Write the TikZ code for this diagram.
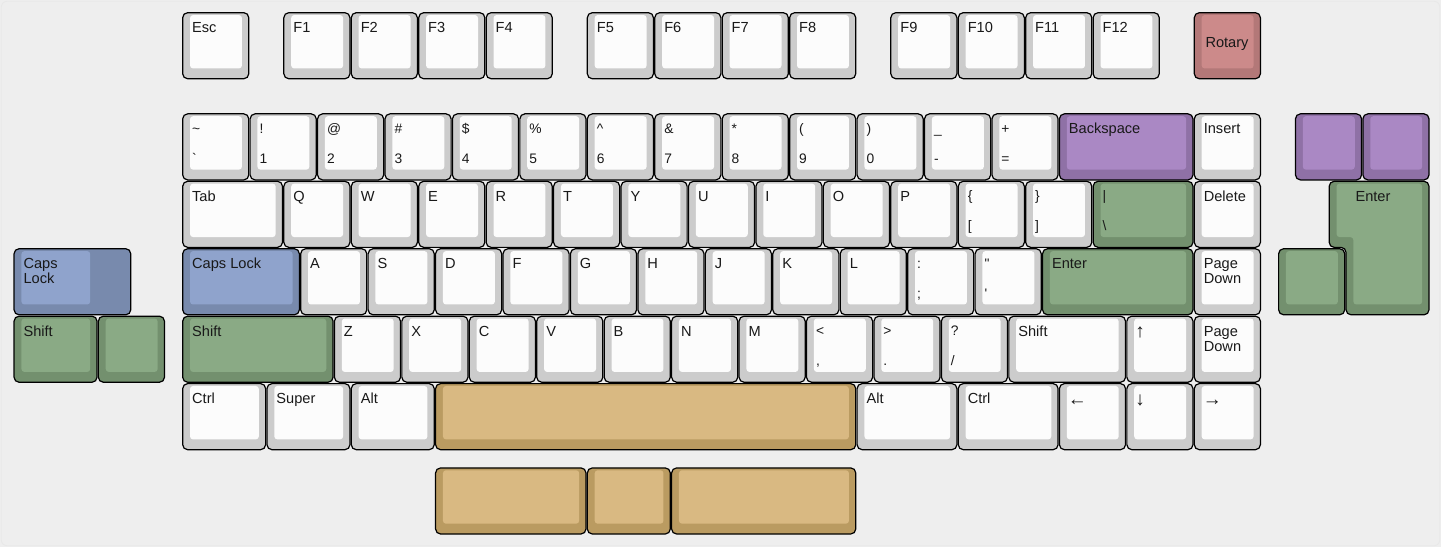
\documentclass[tikz,border=0pt]{standalone}
\usepackage{fontspec}
\setmainfont{Liberation Sans}
\usetikzlibrary{calc}
\newcounter{keyno}
\definecolor{bgfill}{HTML}{EEEEEE}
\definecolor{greyout}{HTML}{CCCCCC}
\definecolor{greyin}{HTML}{FCFCFC}
\definecolor{rotout}{RGB}{179,120,120}
\definecolor{rotin}{RGB}{204,138,138}
\definecolor{blueout}{RGB}{120,138,173}
\definecolor{bluein}{RGB}{143,163,204}
\definecolor{greenout}{RGB}{115,144,110}
\definecolor{greenin}{RGB}{138,170,133}
\definecolor{purpout}{RGB}{143,113,166}
\definecolor{purpin}{RGB}{170,136,196}
\definecolor{tanout}{RGB}{186,155,97}
\definecolor{tanin}{RGB}{217,185,130}
\tikzset{
	keyrim/.style={draw=black, line width=0.6pt, rounded corners=2.5pt},
	keytop/.style={rounded corners=1.5pt},
	legend/.style={anchor=base west, inner sep=0pt, align=left, text=black!90, font=\fontsize{7.3}{7.5}\selectfont},
	sublegend/.style={legend, font=\fontsize{6.9}{7}\selectfont},
	arrowlegend/.style={legend, font=\fontsize{9.5}{9.5}\selectfont}
}
% colour, x, y, width
\def\blankcap[#1](#2,#3)(#4){%
	\draw[keyrim, fill=#1out] ({#2+0.01},{#3+0.01}) rectangle ({#2+#4-0.01},{#3+0.99});
	\fill[keytop, #1in] ({#2+0.119},{#3+0.045}) rectangle ({#2+#4-0.111},{#3+0.837});}
\def\keycap[#1](#2,#3)(#4)#5{%
	\blankcap[#1](#2,#3)(#4)
	\stepcounter{keyno}
	\node[legend] (k\arabic{keyno}) at ({#2+0.145},{#3+0.305}) {#5};}
% two lines: the base anchor sits on the last line
\def\tallcap[#1](#2,#3)(#4)#5{%
	\blankcap[#1](#2,#3)(#4)
	\stepcounter{keyno}
	\node[legend] (k\arabic{keyno}) at ({#2+0.145},{#3+0.527}) {#5};}
\def\arrowcap[#1](#2,#3)(#4)#5{%
	\blankcap[#1](#2,#3)(#4)
	\stepcounter{keyno}
	\node[arrowlegend] (k\arabic{keyno}) at ({#2+0.13},{#3+0.33}) {#5};}
\def\dualcap[#1](#2,#3)(#4)#5#6{%
	\blankcap[#1](#2,#3)(#4)
	\stepcounter{keyno}
	\node[sublegend] (k\arabic{keyno}t) at ({#2+0.145},{#3+0.3}) {#5};
	\node[sublegend] (k\arabic{keyno}b) at ({#2+0.145},{#3+0.741}) {#6};}

\begin{document}
\begin{tikzpicture}[x=33.72pt, y=-33.72pt]
			%%%%% START %%%%%
			\useasboundingbox (-2.6987,-0.1779) rectangle (18.668,7.933);
			\fill[bgfill] (-2.6987,-0.1779) rectangle (18.668,7.933);
			\draw[black!9, rounded corners=3pt] (-2.68,-0.16) rectangle (18.65,7.915);
			
			% function row
			\keycap[grey](0,0)(1){Esc}
			\keycap[grey](1.5,0)(1){F1}
			\keycap[grey](2.5,0)(1){F2}
			\keycap[grey](3.5,0)(1){F3}
			\keycap[grey](4.5,0)(1){F4}
			\keycap[grey](6,0)(1){F5}
			\keycap[grey](7,0)(1){F6}
			\keycap[grey](8,0)(1){F7}
			\keycap[grey](9,0)(1){F8}
			\keycap[grey](10.5,0)(1){F9}
			\keycap[grey](11.5,0)(1){F10}
			\keycap[grey](12.5,0)(1){F11}
			\keycap[grey](13.5,0)(1){F12}
			\blankcap[rot](15,0)(1)
			\node[legend] (rotary) at (15.17,0.52) {Rotary};
			
			% number row
			\dualcap[grey](0,1.5)(1){\textasciitilde}{\textasciigrave}
			\dualcap[grey](1,1.5)(1){!}{1}
			\dualcap[grey](2,1.5)(1){@}{2}
			\dualcap[grey](3,1.5)(1){\#}{3}
			\dualcap[grey](4,1.5)(1){\$}{4}
			\dualcap[grey](5,1.5)(1){\%}{5}
			\dualcap[grey](6,1.5)(1){\textasciicircum}{6}
			\dualcap[grey](7,1.5)(1){\&}{7}
			\dualcap[grey](8,1.5)(1){*}{8}
			\dualcap[grey](9,1.5)(1){(}{9}
			\dualcap[grey](10,1.5)(1){)}{0}
			\dualcap[grey](11,1.5)(1){\_}{-}
			\dualcap[grey](12,1.5)(1){+}{=}
			\keycap[purp](13,1.5)(2){Backspace}
			\keycap[grey](15,1.5)(1){Insert}
			\blankcap[purp](16.5,1.5)(1)
			\blankcap[purp](17.5,1.5)(1)
			
			% tab row
			\keycap[grey](0,2.5)(1.5){Tab}
			\keycap[grey](1.5,2.5)(1){Q}
			\keycap[grey](2.5,2.5)(1){W}
			\keycap[grey](3.5,2.5)(1){E}
			\keycap[grey](4.5,2.5)(1){R}
			\keycap[grey](5.5,2.5)(1){T}
			\keycap[grey](6.5,2.5)(1){Y}
			\keycap[grey](7.5,2.5)(1){U}
			\keycap[grey](8.5,2.5)(1){I}
			\keycap[grey](9.5,2.5)(1){O}
			\keycap[grey](10.5,2.5)(1){P}
			\dualcap[grey](11.5,2.5)(1){\{}{[}
			\dualcap[grey](12.5,2.5)(1){\}}{]}
			\dualcap[green](13.5,2.5)(1.5){|}{\textbackslash}
			\keycap[grey](15,2.5)(1){Delete}
			
			% iso enter
			\draw[keyrim, fill=greenout] (17.01,2.51) -- (18.49,2.51) -- (18.49,4.49) -- (17.26,4.49) -- (17.26,3.49) -- (17.01,3.49) -- cycle;
			\fill[keytop, greenin] (17.119,2.545) -- (18.389,2.545) -- (18.389,4.337) -- (17.369,4.337) -- (17.369,3.337) -- (17.119,3.337) -- cycle;
			\node[legend] (isoenter) at (17.395,2.805) {Enter};
			
			% caps row
			\draw[keyrim, fill=blueout] (-2.49,3.51) rectangle (-0.76,4.49);
			\fill[keytop, bluein] (-2.381,3.545) rectangle (-1.361,4.337);
			\node[legend] (stepcaps) at (-2.355,4.027) {Caps\\Lock};
			\keycap[blue](0,3.5)(1.75){Caps Lock}
			\keycap[grey](1.75,3.5)(1){A}
			\keycap[grey](2.75,3.5)(1){S}
			\keycap[grey](3.75,3.5)(1){D}
			\keycap[grey](4.75,3.5)(1){F}
			\keycap[grey](5.75,3.5)(1){G}
			\keycap[grey](6.75,3.5)(1){H}
			\keycap[grey](7.75,3.5)(1){J}
			\keycap[grey](8.75,3.5)(1){K}
			\keycap[grey](9.75,3.5)(1){L}
			\dualcap[grey](10.75,3.5)(1){:}{;}
			\dualcap[grey](11.75,3.5)(1){\textquotedbl}{\textquotesingle}
			\keycap[green](12.75,3.5)(2.25){Enter}
			\tallcap[grey](15,3.5)(1){Page\\Down}
			\blankcap[green](16.25,3.5)(1)
			
			% shift row
			\keycap[green](-2.5,4.5)(1.25){Shift}
			\blankcap[green](-1.25,4.5)(1)
			\keycap[green](0,4.5)(2.25){Shift}
			\keycap[grey](2.25,4.5)(1){Z}
			\keycap[grey](3.25,4.5)(1){X}
			\keycap[grey](4.25,4.5)(1){C}
			\keycap[grey](5.25,4.5)(1){V}
			\keycap[grey](6.25,4.5)(1){B}
			\keycap[grey](7.25,4.5)(1){N}
			\keycap[grey](8.25,4.5)(1){M}
			\dualcap[grey](9.25,4.5)(1){<}{,}
			\dualcap[grey](10.25,4.5)(1){>}{.}
			\dualcap[grey](11.25,4.5)(1){?}{/}
			\keycap[grey](12.25,4.5)(1.75){Shift}
			\arrowcap[grey](14,4.5)(1){↑}
			\tallcap[grey](15,4.5)(1){Page\\Down}
			
			% bottom row
			\keycap[grey](0,5.5)(1.25){Ctrl}
			\keycap[grey](1.25,5.5)(1.25){Super}
			\keycap[grey](2.5,5.5)(1.25){Alt}
			\blankcap[tan](3.75,5.5)(6.25)
			\keycap[grey](10,5.5)(1.5){Alt}
			\keycap[grey](11.5,5.5)(1.5){Ctrl}
			\arrowcap[grey](13,5.5)(1){←}
			\arrowcap[grey](14,5.5)(1){↓}
			\arrowcap[grey](15,5.5)(1){→}
			
			% split spacebars
			\blankcap[tan](3.75,6.75)(2.25)
			\blankcap[tan](6,6.75)(1.25)
			\blankcap[tan](7.25,6.75)(2.75)
			%%%%% END %%%%%
\end{tikzpicture}
\end{document}
